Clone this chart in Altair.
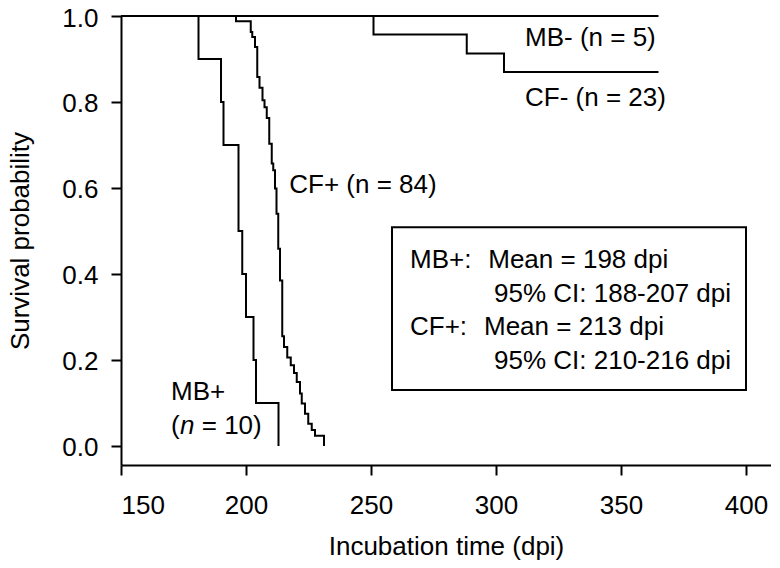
import altair as alt
import pandas as pd

FONT = "Liberation Sans"
FS = 26

# ---- data ----
# MB+ (n = 10)
mbp_time = [150, 181, 190, 191, 197, 198.5, 200, 203, 204, 213]
mbp_surv = [1.0, 0.9, 0.8, 0.7, 0.5, 0.4, 0.3, 0.2, 0.1, 0.0]

# CF+ (n = 84)
cfp_time = [150, 196.0, 201.9, 202.5, 203.6, 204.5, 205.4, 206.6, 207.4, 208.3,
            209.3, 210.3, 210.9, 211.6, 212.2, 212.9, 213.6, 214.5, 215.2, 216.5,
            217.9, 219.2, 220.3, 221.6, 222.3, 223.6, 224.9, 226.3, 227.6, 231.2]
cfp_surv = [1.0, 0.988, 0.963, 0.951, 0.928, 0.858, 0.833, 0.804, 0.788, 0.763,
            0.703, 0.657, 0.641, 0.599, 0.540, 0.459, 0.385, 0.255, 0.230, 0.206,
            0.188, 0.170, 0.149, 0.122, 0.099, 0.075, 0.052, 0.037, 0.024, 0.0]

# CF- (n = 23)
cfm_time = [150, 251, 288.3, 303.2, 365]
cfm_surv = [1.0, 0.957, 0.913, 0.870, 0.870]

# MB- (n = 5)
mbm_time = [150, 365]
mbm_surv = [1.0, 1.0]

x_ticks = [150, 200, 250, 300, 350, 400]
y_ticks = [0.0, 0.2, 0.4, 0.6, 0.8, 1.0]

rows = []
for name, ts, ss in [("MB+", mbp_time, mbp_surv), ("CF+", cfp_time, cfp_surv),
                     ("CF-", cfm_time, cfm_surv), ("MB-", mbm_time, mbm_surv)]:
    for t, s in zip(ts, ss):
        rows.append({"group": name, "time": t, "surv": s})
curves = pd.DataFrame(rows)

# annotation texts (label, x in dpi, y in survival at text baseline)
ann_text = ["MB- (n = 5)", "CF- (n = 23)", "CF+ (n = 84)", "MB+", "(", "= 10)",
            "MB+:", "Mean = 198 dpi", "95% CI: 188-207 dpi",
            "CF+:", "Mean = 213 dpi", "95% CI: 210-216 dpi"]
ann_x = [311.6, 311.6, 217.3, 170.0, 170.0, 182.3,
         265.6, 296.9, 299.2, 265.6, 295.2, 299.2]
ann_y = [0.930, 0.790, 0.589, 0.106, 0.029, 0.029,
         0.413, 0.413, 0.335, 0.257, 0.257, 0.180]
ann = pd.DataFrame({"text": ann_text, "x": ann_x, "y": ann_y})

ital = pd.DataFrame({"text": ["n"], "x": [173.6], "y": [0.029]})

box = pd.DataFrame({"x": [258.4], "x2": [400.0], "y": [0.509], "y2": [0.130]})

xscale = alt.Scale(domain=[150, 410], nice=False, zero=False)
yscale = alt.Scale(domain=[-0.0442, 1.0], nice=False, zero=False)

xaxis = alt.Axis(values=x_ticks, title="Incubation time (dpi)", format="d",
                 tickSize=10, labelPadding=17, titleY=89, titleBaseline="alphabetic")
yaxis = alt.Axis(values=y_ticks, title="Survival probability", format=".1f",
                 tickSize=10, labelPadding=13, labelBaseline="alphabetic", labelOffset=10,
                 titleX=-93, titleY=224.5,
                 titleBaseline="alphabetic", titleAngle=270, titleAlign="center")

lines = alt.Chart(curves).mark_line(interpolate="step-after", color="black",
                                    strokeWidth=2).encode(
    x=alt.X("time:Q", scale=xscale, axis=xaxis),
    y=alt.Y("surv:Q", scale=yscale, axis=yaxis),
    detail="group:N",
)

texts = alt.Chart(ann).mark_text(align="left", baseline="alphabetic", font=FONT,
                                 fontSize=FS, color="black").encode(
    x=alt.X("x:Q", scale=xscale), y=alt.Y("y:Q", scale=yscale), text="text:N")

itext = alt.Chart(ital).mark_text(align="left", baseline="alphabetic", font=FONT,
                                  fontSize=FS, fontStyle="italic", color="black").encode(
    x=alt.X("x:Q", scale=xscale), y=alt.Y("y:Q", scale=yscale), text="text:N")

rect = alt.Chart(box).mark_rect(fill="white", fillOpacity=0, stroke="black",
                                strokeWidth=2).encode(
    x=alt.X("x:Q", scale=xscale), x2="x2:Q",
    y=alt.Y("y:Q", scale=yscale), y2="y2:Q")

chart = alt.layer(rect, lines, texts, itext).properties(
    width=650, height=449,
    autosize=alt.AutoSizeParams(type="none"),
    padding={"left": 113, "top": 8, "right": 0, "bottom": 95},
).configure_view(stroke=None).configure_axis(
    grid=False, domainColor="black", domainWidth=2, tickColor="black", tickWidth=2,
    labelFont=FONT, labelFontSize=FS, labelColor="black",
    titleFont=FONT, titleFontSize=FS, titleColor="black", titleFontWeight="normal",
)

chart.save("out.html", embed_options={"renderer": "svg", "actions": False})
